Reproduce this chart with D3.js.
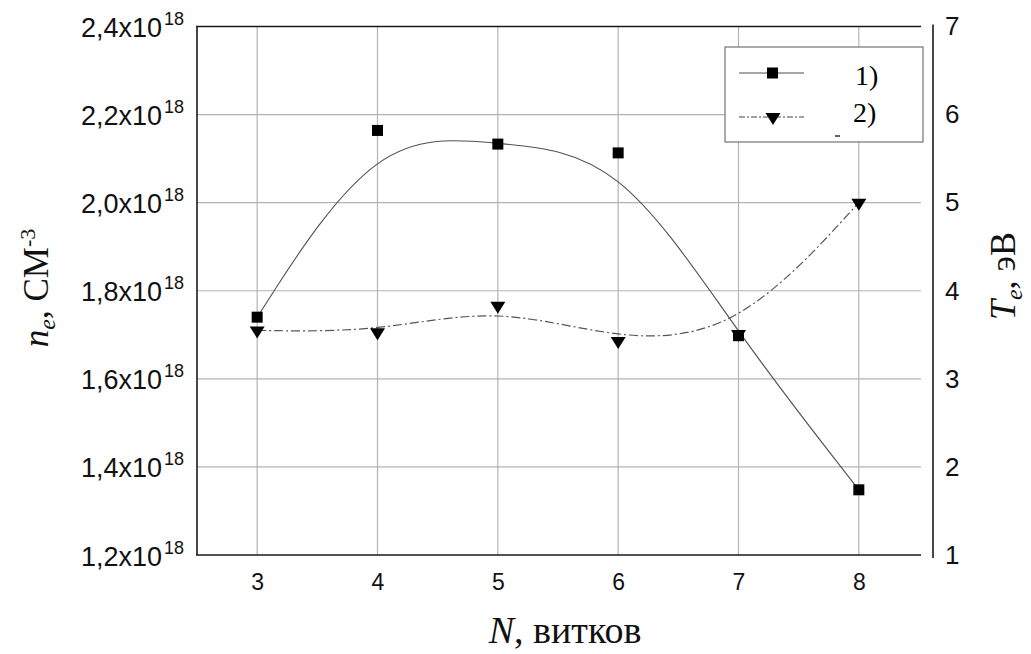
<!DOCTYPE html>
<html><head><meta charset="utf-8">
<script src="https://cdn.jsdelivr.net/npm/d3@7"></script>
<style>body{margin:0;background:#fff} svg{display:block}</style>
</head><body><svg id="c" width="1031" height="654"></svg>
<script>
// ---- data ----
const turns = [3, 4, 5, 6, 7, 8];                               // N, витков
const neValues = [1.74, 2.164, 2.133, 2.113, 1.698, 1.348];     // n_e, ×10^18 см^-3 (series 1)
const teValues = [3.55, 3.53, 3.83, 3.43, 3.51, 5.0];           // T_e, эВ (series 2)
const leftTicks = [1.2, 1.4, 1.6, 1.8, 2.0, 2.2, 2.4];
const leftTickLabels = ["1,2x10", "1,4x10", "1,6x10", "1,8x10", "2,0x10", "2,2x10", "2,4x10"];
const leftTickExp = "18";
const rightTicks = [1, 2, 3, 4, 5, 6, 7];
const seriesNames = ["1)", "2)"];

const svg = d3.select("#c");
const sans = "'Liberation Sans', Arial, sans-serif";
const serif = "'Liberation Serif', 'Times New Roman', serif";

const x = d3.scaleLinear().domain([2.5, 8.5]).range([197, 919]);
const yL = d3.scaleLinear().domain([1.2, 2.4]).range([555, 26.5]);
const yR = d3.scaleLinear().domain([1, 7]).range([555, 26.5]);

// grid
const grid = svg.append("g").attr("stroke", "#b4b4b4").attr("stroke-width", 1.2);
grid.selectAll("line.v").data(turns).join("line")
  .attr("x1", d => x(d)).attr("x2", d => x(d)).attr("y1", yL(2.4)).attr("y2", yL(1.2));
grid.selectAll("line.h").data(leftTicks.slice(1, -1)).join("line")
  .attr("x1", 197).attr("x2", 921).attr("y1", d => yL(d)).attr("y2", d => yL(d));

// frame
const frame = svg.append("g").attr("stroke", "#1a1a1a").attr("stroke-width", 1.6);
frame.append("line").attr("x1", 197).attr("x2", 197).attr("y1", yL(2.4)).attr("y2", yL(1.2));
frame.append("line").attr("x1", 196).attr("x2", 921).attr("y1", yL(2.4)).attr("y2", yL(2.4));
frame.append("line").attr("x1", 196).attr("x2", 921).attr("y1", yL(1.2)).attr("y2", yL(1.2));
frame.append("line").attr("x1", 933).attr("x2", 933).attr("y1", yR(7) - 2).attr("y2", yR(1) + 3);

// bottom axis labels
const ax = svg.append("g").attr("transform", `translate(0,${yL(1.2)})`)
  .call(d3.axisBottom(x).tickValues(turns).tickSize(0).tickPadding(19).tickFormat(d3.format("d")));
ax.select(".domain").remove();
ax.attr("font-family", sans).attr("font-size", 23);
ax.selectAll("text").attr("fill", "#111");

// right axis labels
const ar = svg.append("g").attr("transform", "translate(933,0)")
  .call(d3.axisRight(yR).tickValues(rightTicks).tickSize(0).tickPadding(12).tickFormat(d3.format("d")));
ar.select(".domain").remove();
ar.attr("font-family", sans).attr("font-size", 26);
ar.selectAll("text").attr("fill", "#111");

// left axis labels with superscripts
const lt = svg.append("g").selectAll("text").data(leftTicks).join("text")
  .attr("x", 184).attr("y", d => yL(d) + 10.5)
  .attr("text-anchor", "end").attr("font-family", sans).attr("fill", "#111");
lt.append("tspan").attr("font-size", 27).text((d, i) => leftTickLabels[i]);
lt.append("tspan").attr("font-size", 18).attr("dy", -12).attr("dx", 2).text(leftTickExp);

// curves
const pts1 = turns.map((t, i) => ({x: t, y: neValues[i]}));
const pts2 = turns.map((t, i) => ({x: t, y: teValues[i]}));
svg.append("path").datum(pts1)
  .attr("fill", "none").attr("stroke", "#505050").attr("stroke-width", 1.1)
  .attr("d", d3.line().x(d => x(d.x)).y(d => yL(d.y)).curve(d3.curveBasis));
svg.append("path").datum(pts2)
  .attr("fill", "none").attr("stroke", "#555").attr("stroke-width", 1.2)
  .attr("stroke-dasharray", "9,3,2,3")
  .attr("d", d3.line().x(d => x(d.x)).y(d => yR(d.y)).curve(d3.curveBasis));

// markers
const triPath = "M-7.5,-4L7.5,-4L0,8Z";
svg.append("g").selectAll("path").data(pts2).join("path")
  .attr("d", triPath).attr("fill", "#000")
  .attr("transform", d => `translate(${x(d.x)},${yR(d.y)})`);
svg.append("g").selectAll("rect").data(pts1).join("rect")
  .attr("x", d => x(d.x) - 5.5).attr("y", d => yL(d.y) - 5.5)
  .attr("width", 11).attr("height", 11).attr("fill", "#000");

// legend
const lg = svg.append("g");
lg.append("rect").attr("x", 725).attr("y", 47).attr("width", 198).attr("height", 95)
  .attr("fill", "#fff").attr("stroke", "#666").attr("stroke-width", 1.1);
lg.append("line").attr("x1", 739).attr("x2", 804).attr("y1", 73).attr("y2", 73)
  .attr("stroke", "#505050").attr("stroke-width", 1.1);
lg.append("rect").attr("x", 767).attr("y", 67.5).attr("width", 11).attr("height", 11).attr("fill", "#000");
lg.append("line").attr("x1", 739).attr("x2", 804).attr("y1", 117).attr("y2", 117)
  .attr("stroke", "#444").attr("stroke-width", 1.2).attr("stroke-dasharray", "6,2,2,2");
lg.append("path").attr("d", triPath).attr("fill", "#000").attr("transform", "translate(773,117)");
lg.append("text").attr("x", 855).attr("y", 85).attr("font-family", serif).attr("font-size", 28).text(seriesNames[0]);
lg.append("text").attr("x", 853).attr("y", 122).attr("font-family", serif).attr("font-size", 28).text(seriesNames[1]);
lg.append("line").attr("x1", 835).attr("x2", 840).attr("y1", 136).attr("y2", 136).attr("stroke", "#000").attr("stroke-width", 1.2);

// axis titles
const bt = svg.append("text").attr("x", 565).attr("y", 643).attr("text-anchor", "middle")
  .attr("font-family", serif).attr("font-size", 38).attr("fill", "#111");
bt.append("tspan").attr("font-style", "italic").text("N");
bt.append("tspan").text(", витков");

const ltitle = svg.append("text").attr("transform", "translate(48,288) rotate(-90)")
  .attr("text-anchor", "middle").attr("font-family", serif).attr("font-size", 35).attr("fill", "#111");
ltitle.append("tspan").attr("font-style", "italic").text("n");
ltitle.append("tspan").attr("font-style", "italic").attr("font-size", 24).attr("dy", 7).text("e");
ltitle.append("tspan").attr("dy", -7).text(", СМ");
ltitle.append("tspan").attr("font-size", 22).attr("dy", -13).text("-3");

const rtitle = svg.append("text").attr("transform", "translate(1015,276) rotate(-90)")
  .attr("text-anchor", "middle").attr("font-family", serif).attr("font-size", 36).attr("fill", "#111");
rtitle.append("tspan").attr("font-style", "italic").text("T");
rtitle.append("tspan").attr("font-style", "italic").attr("font-size", 24).attr("dy", 7).text("e");
rtitle.append("tspan").attr("dy", -7).text(", эВ");
</script></body></html>
